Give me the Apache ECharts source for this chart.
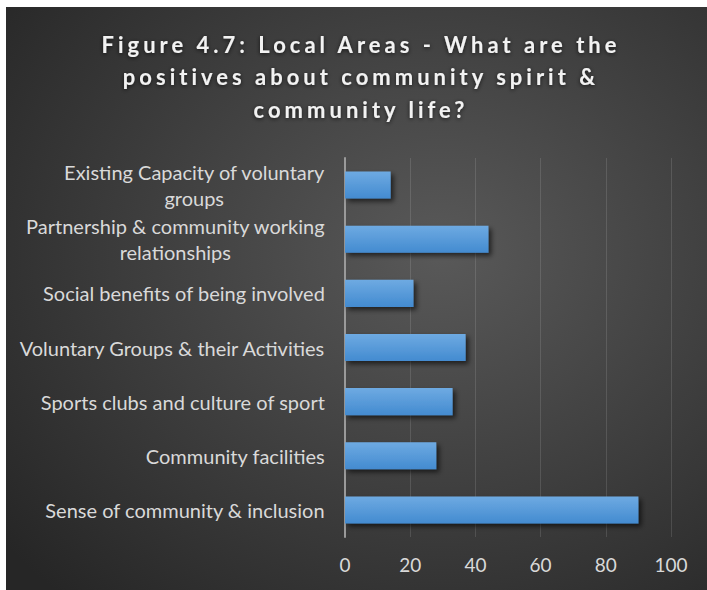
<!DOCTYPE html>
<html>
<head>
<meta charset="utf-8">
<script src="https://cdn.jsdelivr.net/npm/echarts@6/dist/echarts.min.js"></script>
<style>
  html, body { margin: 0; padding: 0; background: #ffffff; }
  #chart { position: absolute; left: 6px; top: 7px; width: 701px; height: 583px; }
  /* spaced-out heading */
  #chart text[style*="bold"] { letter-spacing: 4px; }
</style>
</head>
<body>
<div id="chart"></div>
<script>
// Responses, top to bottom
const categories = [
  'Existing Capacity of voluntary\ngroups',
  'Partnership & community working\nrelationships',
  'Social benefits of being involved',
  'Voluntary Groups & their Activities',
  'Sports clubs and culture of sport',
  'Community facilities',
  'Sense of community & inclusion'
];
const counts = [14, 44, 21, 37, 33, 28, 90];
const xTicks = [0, 20, 40, 60, 80, 100];

const chart = echarts.init(document.getElementById('chart'), null, { renderer: 'svg' });

chart.setOption({
  backgroundColor: {
    type: 'radial', x: 0.62, y: 0.42, r: 0.8,
    colorStops: [
      { offset: 0, color: '#595959' },
      { offset: 1, color: '#262626' }
    ]
  },
  title: {
    text: 'Figure 4.7: Local Areas - What are the\npositives about community spirit &\ncommunity life?',
    left: 350,
    textAlign: 'center',
    top: 16,
    textStyle: {
      color: '#f2f2f2',
      fontFamily: 'Lato',
      fontWeight: 'bold',
      fontSize: 22,
      lineHeight: 32.5,
      textShadowColor: 'rgba(0,0,0,0.7)',
      textShadowBlur: 4,
      textShadowOffsetY: 1
    }
  },
  grid: { left: 339, right: 36, top: 151, bottom: 53, containLabel: false },
  xAxis: {
    type: 'value',
    min: xTicks[0],
    max: xTicks[xTicks.length - 1],
    interval: xTicks[1] - xTicks[0],
    axisLine: { show: false },
    axisTick: { show: false },
    axisLabel: { color: '#d9d9d9', fontFamily: 'Lato', fontSize: 19, margin: 18 },
    splitLine: { lineStyle: { color: 'rgba(255,255,255,0.12)', width: 1 } }
  },
  yAxis: {
    type: 'category',
    inverse: true,
    data: categories,
    axisLine: { show: true, lineStyle: { color: '#9a9a9a', width: 2 } },
    axisTick: { show: false },
    axisLabel: {
      margin: 20,
      formatter: v => v.split('\n').map(l => '{c|' + l + '}').join('\n'),
      rich: {
        c: { color: '#d9d9d9', fontFamily: 'Lato', fontSize: 20, lineHeight: 26, align: 'center' }
      }
    }
  },
  series: [{
    type: 'bar',
    data: counts,
    barCategoryGap: '50%',
    itemStyle: {
      color: {
        type: 'linear', x: 0, y: 0, x2: 0, y2: 1,
        colorStops: [
          { offset: 0, color: '#6eaae2' },
          { offset: 1, color: '#438bd0' }
        ]
      },
      shadowColor: 'rgba(0,0,0,0.6)',
      shadowBlur: 5,
      shadowOffsetX: 3,
      shadowOffsetY: 3
    }
  }],
  animation: false
});
</script>
</body>
</html>
